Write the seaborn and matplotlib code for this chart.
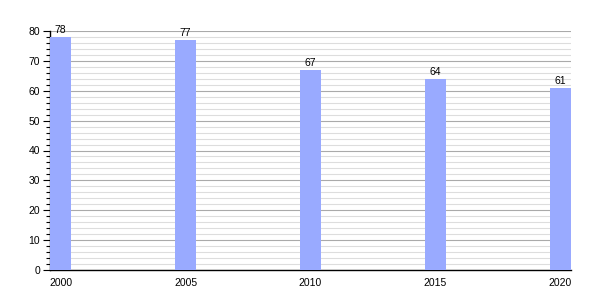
import matplotlib
matplotlib.use("Agg")
import matplotlib.pyplot as plt
import seaborn as sns
import pandas as pd
from matplotlib.ticker import MultipleLocator

years = ["2000", "2005", "2010", "2015", "2020"]
values = [78, 77, 67, 64, 61]

df = pd.DataFrame({"year": years, "value": values})

sns.set_style("white")
plt.rcParams['font.family'] = ['Liberation Sans', 'DejaVu Sans']

fig = plt.figure(figsize=(6, 3), dpi=100)
ax = fig.add_axes([50/600, 30/300, 521/600, 239/300])

sns.barplot(data=df, x="year", y="value", color="#99AAFF", saturation=1,
            width=0.168, ax=ax, zorder=3, linewidth=0, edgecolor="none")

ax.set_xlim(-0.084, 4.084)
ax.set_ylim(0, 80)
ax.yaxis.set_major_locator(MultipleLocator(10))
ax.yaxis.set_minor_locator(MultipleLocator(2))
ax.grid(which="major", axis="y", color="#AAAAAA", linewidth=0.8, zorder=0)
ax.grid(which="minor", axis="y", color="#DDDDDD", linewidth=0.8, zorder=0)
ax.set_axisbelow(True)

for s in ["top", "right"]:
    ax.spines[s].set_visible(False)
for s in ["left", "bottom"]:
    ax.spines[s].set_color("black")
    ax.spines[s].set_linewidth(1)

ax.tick_params(axis="y", which="major", left=True, length=5, width=0.8,
               labelsize=7.5, pad=2, color="black", labelcolor="black")
ax.tick_params(axis="y", which="minor", left=True, length=3, width=0.8, color="black")
ax.tick_params(axis="x", bottom=False, labelsize=7.5, pad=2, labelcolor="black")
ax.set_xlabel("")
ax.set_ylabel("")

for i, v in enumerate(values):
    ax.text(i, v + 0.6, str(v), ha="center", va="bottom", fontsize=7.5, color="black")

fig.savefig("out.png", dpi=100)
